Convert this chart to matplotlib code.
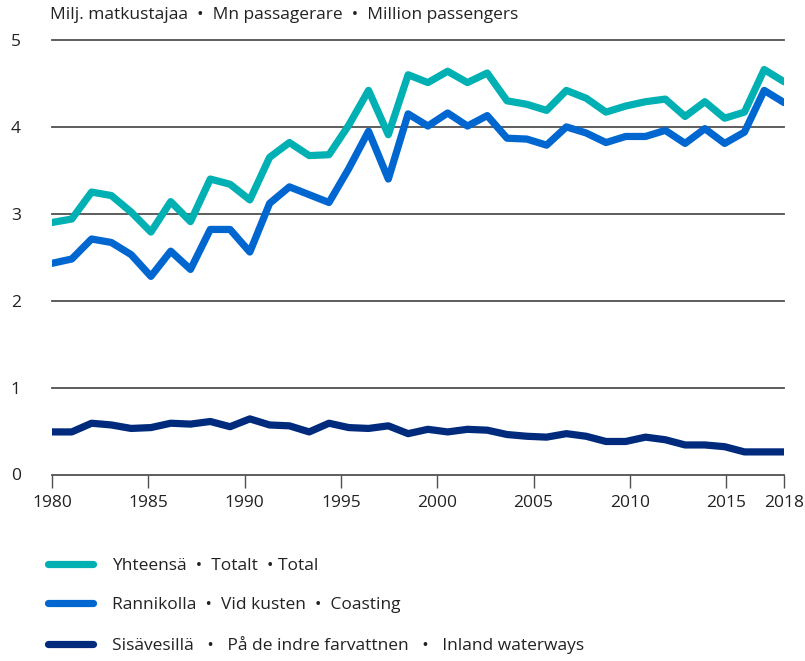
import matplotlib
matplotlib.use('Agg')
import matplotlib.pyplot as plt
import matplotlib as mpl
import numpy as np

# Passengers, million (38 points drawn across 1980-2018)
total = [2.90, 2.94, 3.25, 3.21, 3.02, 2.79, 3.14, 2.91, 3.40, 3.34,
         3.16, 3.65, 3.82, 3.67, 3.68, 4.02, 4.42, 3.91, 4.60, 4.51,
         4.64, 4.51, 4.62, 4.30, 4.26, 4.19, 4.42, 4.33, 4.17, 4.24,
         4.29, 4.32, 4.12, 4.29, 4.10, 4.17, 4.66, 4.52]
coast = [2.43, 2.48, 2.71, 2.67, 2.53, 2.28, 2.57, 2.36, 2.82, 2.82,
         2.56, 3.12, 3.31, 3.22, 3.13, 3.52, 3.95, 3.40, 4.15, 4.01,
         4.16, 4.01, 4.13, 3.87, 3.86, 3.79, 4.00, 3.93, 3.82, 3.89,
         3.89, 3.96, 3.81, 3.98, 3.81, 3.94, 4.42, 4.28]
inland = [0.49, 0.49, 0.59, 0.57, 0.53, 0.54, 0.59, 0.58, 0.61, 0.55,
          0.64, 0.57, 0.56, 0.49, 0.59, 0.54, 0.53, 0.56, 0.47, 0.52,
          0.49, 0.52, 0.51, 0.46, 0.44, 0.43, 0.47, 0.44, 0.38, 0.38,
          0.43, 0.40, 0.34, 0.34, 0.32, 0.26, 0.26, 0.26]
years = np.linspace(1980, 2018, len(total))

xticks = [1980, 1985, 1990, 1995, 2000, 2005, 2010, 2015, 2018]
yticks = [0, 1, 2, 3, 4, 5]

labels = ['Yhteensä  •  Totalt  • Total',
          'Rannikolla  •  Vid kusten  •  Coasting',
          'Sisävesillä   •   På de indre farvattnen   •   Inland waterways']
colors = ['#00b0b3', '#0066d0', '#002a7c']

mpl.rcParams['font.family'] = ['Open Sans', 'DejaVu Sans']
mpl.rcParams['font.size'] = 12
grey = '#505050'
txt = '#222222'

W, H = 805, 661
fig = plt.figure(figsize=(W / 100, H / 100), dpi=100)
y0, y_top = 474.5, 30
unit = 86.9
ax = fig.add_axes([52 / W, (H - y0) / H, (784 - 52) / W, (y0 - y_top) / H])
ax.set_xlim(1980, 2018)
ax.set_ylim(0, (y0 - y_top) / unit)

for yv in yticks[1:]:
    ax.axhline(yv, color=grey, linewidth=1.3, zorder=1, clip_on=False)

for data, lab, col in zip([total, coast, inland], labels, colors):
    ax.plot(years, data, color=col, linewidth=5.2, label=lab,
            solid_capstyle='round', solid_joinstyle='round', zorder=3)

for s in ['top', 'right', 'left']:
    ax.spines[s].set_visible(False)
ax.spines['bottom'].set_color(grey)
ax.spines['bottom'].set_linewidth(1.3)

ax.set_xticks(xticks)
ax.set_xticklabels([str(x) for x in xticks])
ax.set_yticks(yticks)
ax.set_yticklabels([str(y) for y in yticks])
ax.tick_params(axis='x', direction='out', length=9, width=1.0, color=grey,
               pad=6, labelsize=12.5, labelcolor=txt)
ax.tick_params(axis='y', length=0, pad=26, labelsize=12.5, labelcolor=txt)
for t in ax.get_yticklabels():
    t.set_horizontalalignment('center')

fig.text(50 / W, 1 - 15 / H, 'Milj. matkustajaa  •  Mn passagerare  •  Million passengers',
         ha='left', va='center', fontsize=12.5, color=txt)

fig.legend(loc='upper left', bbox_to_anchor=(48 / W, 1 - 558 / H),
           frameon=False, borderpad=0, borderaxespad=0,
           handlelength=2.6, handletextpad=1.1, labelspacing=1.32,
           fontsize=12.5, labelcolor=txt)

fig.savefig('out.png', dpi=100)
